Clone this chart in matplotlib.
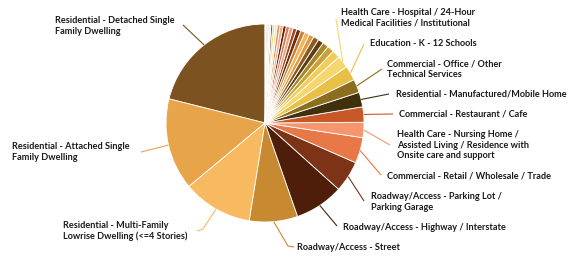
import numpy as np
import matplotlib.pyplot as plt

plt.rcParams['font.family'] = ['Lato', 'DejaVu Sans']

# --- data (share of total) ---
labels = [
    'Residential - Detached Single\nFamily Dwelling',
    'Residential - Attached Single\nFamily Dwelling',
    'Residential - Multi-Family\nLowrise Dwelling (<=4 Stories)',
    'Roadway/Access - Street',
    'Roadway/Access - Highway / Interstate',
    'Roadway/Access - Parking Lot /\nParking Garage',
    'Commercial - Retail / Wholesale / Trade',
    'Health Care - Nursing Home /\nAssisted Living / Residence with\nOnsite care and support',
    'Commercial - Restaurant / Cafe',
    'Residential - Manufactured/Mobile Home',
    'Commercial - Office / Other\nTechnical Services',
    'Education - K - 12 Schools',
    'Health Care - Hospital / 24-Hour\nMedical Facilities / Institutional',
]
values = [21.1, 15.0, 11.4, 7.9, 8.0, 5.1, 4.2, 2.5, 2.5, 2.4, 2.2, 2.4, 2.0]
colors = ['#7B5220', '#E8A448', '#F8BA60', '#C88A30', '#4E1E0A', '#7D3416',
          '#E87848', '#F6966E', '#C85828', '#40300C', '#8C6E1E', '#E8C048',
          '#F6D66E']

# many small unlabeled categories near the top
small_values = [1.3, 1.1, 1.0, 0.9, 0.9, 0.8, 0.8, 0.7, 0.7, 0.6, 0.6,
                0.55, 0.5, 0.5, 0.45, 0.4, 0.35, 0.3, 0.3, 0.25, 0.2, 0.2]
small_colors = ['#F2CC5A', '#C9A233', '#A8862A', '#5C3E12', '#8A5A1E', '#E39A3E',
                '#F2B45E', '#C8822E', '#6B2C10', '#9A4A1E', '#F0A07A', '#E07848',
                '#5A2410', '#F4A888', '#E88C5C', '#F8E4A8', '#EED88E', '#6A5020',
                '#F4EEDC', '#DDDAD2', '#8A6430', '#F8F4EA']

# label placement in pixel space (left x, centre y from top), leader end points
W, H = 584, 259
label_pos = [(55, 26), (12, 152), (63, 231), (297, 247), (343, 227), (371, 202),
             (387, 176), (397, 145), (399, 114), (396, 94), (387, 69), (370, 43),
             (341, 18)]
leader_pts = [[(183, 25)], [(141, 152)], [(203, 229), (197, 231)],
              [(288, 246), (294, 247)], [(337, 226)], [(364, 201)],
              [(381, 175)], [(390, 145)], [(393, 114)], [(389, 94)],
              [(382, 69)], [(364, 44)], [(336, 19)]]

CX, CY, R = 265, 123, 99

fig = plt.figure(figsize=(5.84, 2.59), dpi=100)
ax = fig.add_axes([0, 0, 1, 1])

wedges, _ = ax.pie(values + small_values, colors=colors + small_colors,
                   startangle=90, counterclock=True, center=(CX, H - CY), radius=R,
                   wedgeprops=dict(edgecolor='white', linewidth=0.6))
ax.set_xlim(0, W)
ax.set_ylim(0, H)
ax.set_aspect('equal')
ax.axis('off')

for i, lab in enumerate(labels):
    w = wedges[i]
    mid = np.deg2rad((w.theta1 + w.theta2) / 2)
    sx = CX + R * np.cos(mid)
    sy = H - CY + R * np.sin(mid)
    xs = [sx] + [p[0] for p in leader_pts[i]]
    ys = [sy] + [H - p[1] for p in leader_pts[i]]
    ax.plot(xs, ys, color=colors[i], lw=0.8, solid_capstyle='butt')
    tx, ty = label_pos[i]
    ax.text(tx, H - ty, lab, ha='left', va='center', fontsize=6.6,
            fontweight='bold', color='#1a1a1a', linespacing=1.25)

fig.savefig('out.png', dpi=100, facecolor='white')
